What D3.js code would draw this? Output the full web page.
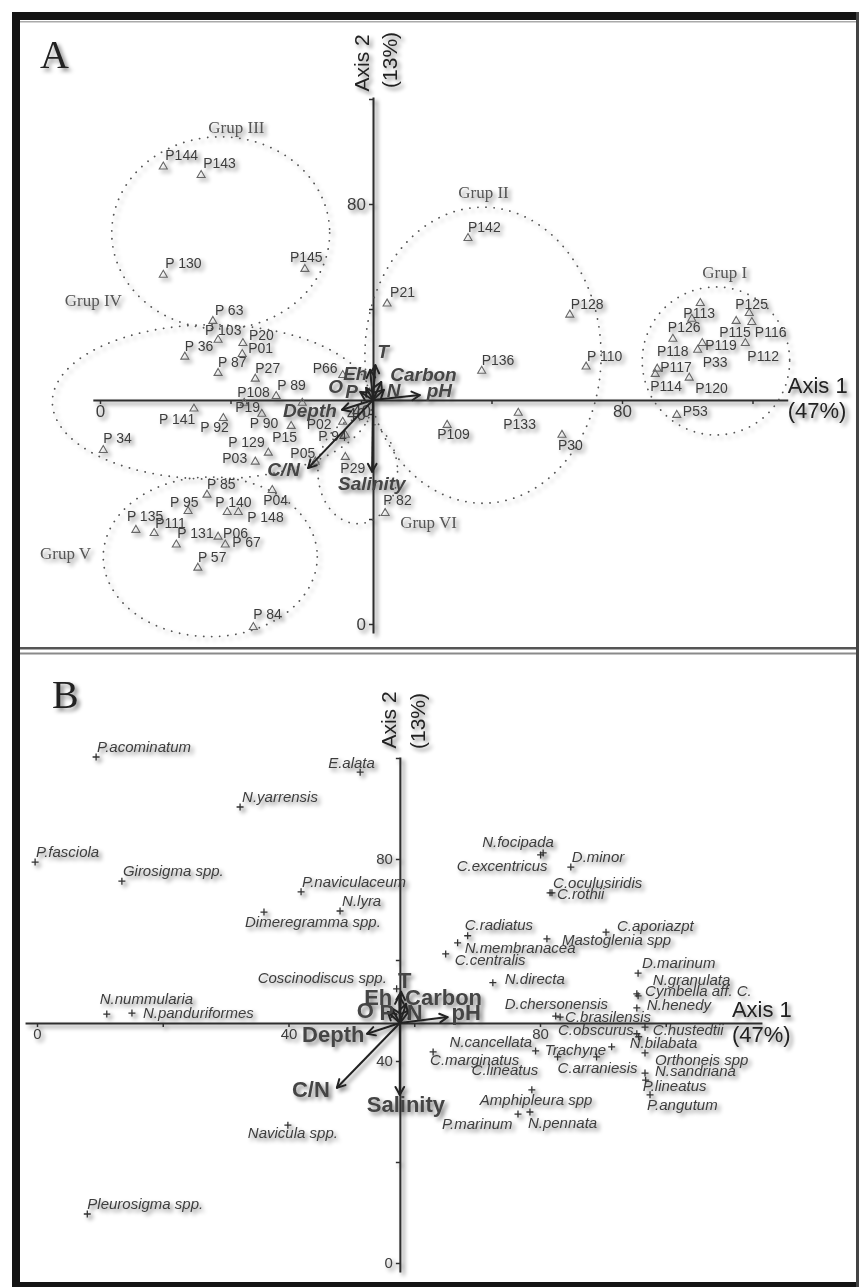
<!DOCTYPE html>
<html>
<head>
<meta charset="utf-8">
<script src="https://cdn.jsdelivr.net/npm/d3@7"></script>
<style>
  body { margin: 0; background: #fff; }
  svg { display: block; font-family: "Liberation Sans", Arial, sans-serif; }
</style>
</head>
<body>
<svg id="chart"></svg>
<script>
// ---------- data: panel A (sampling sites) ----------
const siteNames = ['P144','P143','P 130','P145','P21','P142','P128','P113','P125','P126','P115','P116',
  'P118','P119','P33','P112','P117','P114','P120','P53','P 110','P136','P133','P109','P30',
  'P 63','P 103','P 36','P20','P01','P 87','P27','P108','P 89','P66','P19','P 141','P 92','P 90',
  'P15','P02','P 94','P 129','P03','P05','P29','P 34','P 85','P 95','P 140','P 148','P04',
  'P 135','P111','P 131','P06','P 67','P 57','P 84','P 82'];
const siteAxis1 = [9.7,15.5,9.7,31.4,44.0,56.4,72.0,92.0,99.5,90.7,97.5,99.9,
  87.8,92.3,91.6,98.9,85.4,85.1,90.3,88.4,74.5,58.5,64.1,53.2,70.8,
  17.3,18.1,13.0,21.9,21.8,18.1,23.8,27.0,31.0,37.2,22.1,14.4,18.9,24.8,
  29.3,37.2,37.6,25.8,23.8,33.0,37.6,0.5,16.4,13.5,19.5,21.2,26.4,
  5.5,8.3,11.7,18.1,19.2,15.0,23.5,43.7];
const siteAxis2 = [87.1,85.5,66.5,67.6,61.0,73.5,58.9,61.1,59.2,58.1,57.7,57.5,
  54.3,53.5,52.2,53.5,48.6,47.6,46.9,39.8,49.0,48.2,40.2,37.9,36.0,
  57.7,54.1,50.9,53.5,51.4,47.8,46.7,43.4,42.1,47.4,42.1,41.0,39.2,40.0,
  37.7,38.5,36.0,32.6,30.9,30.9,31.8,33.1,24.6,21.5,21.3,21.3,25.5,
  17.9,17.3,15.1,16.6,15.1,10.7,-0.6,21.1];

const groupNames = ['Grup I','Grup II','Grup III','Grup IV','Grup V','Grup VI'];
const groupCenter1 = [94.4, 58.7, 18.5, 17.2, 16.9, 39.5];
const groupCenter2 = [50.1, 51.2, 74.5, 42.3, 12.8, 29.0];
const groupRadius1 = [11.3, 18.1, 16.7, 24.5, 16.4, 6.1];
const groupRadius2 = [14.1, 28.2, 18.3, 14.7, 15.2, 9.9];
const groupLabel1 = [92.3, 54.9, 16.6, -5.4, -9.2, 46.0];
const groupLabel2 = [65.9, 81.1, 93.5, 60.6, 12.4, 18.3];

// ---------- data: panel B (diatom species) ----------
const speciesNames = ['P.acominatum','E.alata','N.yarrensis','P.fasciola','Girosigma spp.','P.naviculaceum',
  'N.lyra','Dimeregramma spp.','N.focipada','C.excentricus','D.minor','C.oculusiridis','C.rothii',
  'C.radiatus','N.membranacea','C.centralis','Mastoglenia spp','C.aporiazpt','D.marinum','N.granulata',
  'Cymbella aff. C.','N.henedy','D.chersonensis','C.brasilensis','N.directa','Coscinodiscus spp.',
  'N.nummularia','N.panduriformes','C.obscurus','C.hustedtii','N.bilabata','N.cancellata','Trachyne',
  'C.marginatus','C.lineatus','C.arraniesis','Orthoneis spp','N.sandriana','P.lineatus','P.angutum',
  'Amphipleura spp','P.marinum','N.pennata','Navicula spp.','Pleurosigma spp.'];
const speciesAxis1 = [9.4,51.4,32.3,-0.3,13.5,42.0,48.2,36.1,80.5,80.1,84.9,81.6,81.9,
  68.5,66.9,65.0,81.1,90.5,95.6,95.4,95.6,95.4,82.5,83.2,72.5,57.2,
  11.1,15.1,96.7,95.4,95.7,79.3,91.4,63.0,82.8,89.0,96.7,96.7,96.8,97.5,
  78.7,76.5,78.4,39.9,8.0];
const speciesAxis2 = [100.2,97.2,90.3,79.4,75.6,73.5,69.7,69.5,81.2,80.8,78.4,73.3,73.3,
  64.8,63.4,61.2,64.2,65.5,57.4,53.3,52.9,50.5,48.9,48.7,55.5,54.3,
  49.3,49.5,46.7,45.4,44.8,42.0,42.8,41.8,40.8,40.8,41.6,37.6,36.2,33.3,
  34.3,29.5,29.9,27.3,9.7];

// ---------- environmental vectors ----------
const envNames = ['T','Eh','Carbon','O','P','N','pH','Depth','C/N','Salinity'];
const envAxis1A = [42.2,41.4,43.1,39.9,40.8,43.5,49.0,37.1,31.9,41.7];
const envAxis2A = [49.3,48.4,46.1,44.2,45.0,44.6,43.6,40.8,29.7,29.0];
const envAxis1B = [57.9,57.6,58.7,55.8,56.4,59.3,65.3,52.5,47.7,57.7];
const envAxis2B = [53.7,52.9,51.3,49.7,50.5,50.1,48.7,45.4,34.7,33.3];

// ---------- axes ----------
const axisTicks = [0, 20, 40, 60, 80, 100];
const axisTickLabels = [0, 40, 80];
const axis1Title = ['Axis 1', '(47%)'];
const axis2Title = ['Axis 2', '(13%)'];

// ---------- layout (label offsets in px: left edge, centre) ----------
const siteLabelOffset = {
  'P144':[2,-12],'P143':[2,-12],'P 130':[2,-12],'P145':[-15,-12],'P21':[3,-12],'P142':[0,-11],
  'P128':[1,-11],'P113':[-17,10],'P125':[-14,-9],'P126':[-24,8],'P115':[-17,11],'P116':[3,10],
  'P118':[-16,12],'P119':[3,2],'P33':[5,12],'P112':[2,13],'P117':[3,-2],'P114':[-5,12],
  'P120':[6,10],'P53':[6,-4],'P 110':[1,-11],'P136':[0,-11],'P133':[-15,11],'P109':[-10,9],
  'P30':[-4,10],'P 63':[2,-11],'P 103':[-13,-10],'P 36':[0,-11],'P20':[6,-8],'P01':[6,-6],
  'P 87':[0,-11],'P27':[0,-11],'P108':[-39,-4],'P 89':[-25,-18],'P66':[-30,-7],'P19':[-9,4],
  'P 141':[-35,10],'P 92':[-23,9],'P 90':[-12,9],'P15':[-19,11],'P02':[-36,2],'P 94':[-27,1],
  'P 129':[-40,-11],'P03':[-33,-4],'P05':[-25,-9],'P29':[-5,11],'P 34':[0,-12],'P 85':[0,-11],
  'P 95':[-18,-9],'P 140':[-12,-10],'P 148':[9,5],'P04':[-9,10],'P 135':[-9,-14],'P111':[1,-10],
  'P 131':[1,-12],'P06':[5,-4],'P 67':[7,-3],'P 57':[0,-11],'P 84':[0,-13],'P 82':[-2,-13]
};
const speciesLabelOffset = [[1,-10],[-32,-9],[2,-10],[1,-10],[1,-10],[1,-10],[2,-10],[-19,10],
  [-61,-11],[-84,11],[1,-10],[3,-10],[5,1],[-3,-11],[7,5],[9,6],[15,1],[11,-6],[4,-10],[16,-14],
  [7,-5],[10,-3],[-51,-12],[5,0],[12,-4],[-139,-11],[-7,-15],[11,0],[-87,3],[16,-4],[-9,6],
  [-86,-9],[-67,3],[-3,8],[-86,13],[-39,11],[10,7],[10,-2],[-3,6],[-3,10],[-52,10],[-76,10],
  [-2,11],[-40,8],[0,-10]];
const envLabelOffsetA = [[2,-7],[-27,10],[9,-1],[-32,1],[-21,10],[3,7],[7,2],[-59,7],[-41,8],[-34,18]];
const envLabelOffsetB = [[-3,-4],[-35,9],[-1,1],[-31,6],[-12,12],[-3,10],[4,3],[-65,8],[-45,9],[-33,17]];

const W = 859, H = 1287;
const ink = '#2e2e2e', txt = '#3d3d3d';
const svg = d3.select('#chart').attr('width', W).attr('height', H);

// blurred drop shadow used everywhere in the original figure
const filter = svg.append('defs').append('filter').attr('id', 'shadow')
  .attr('x', '-10%').attr('y', '-10%').attr('width', '120%').attr('height', '120%');
filter.append('feGaussianBlur').attr('in', 'SourceAlpha').attr('stdDeviation', 2.2).attr('result', 'blur');
filter.append('feOffset').attr('in', 'blur').attr('dx', 3).attr('dy', 3).attr('result', 'off');
filter.append('feComponentTransfer').attr('in', 'off').attr('result', 'soft')
  .append('feFuncA').attr('type', 'linear').attr('slope', 0.5);
const merge = filter.append('feMerge');
merge.append('feMergeNode').attr('in', 'soft');
merge.append('feMergeNode').attr('in', 'SourceGraphic');

// frame
const frame = svg.append('g');
frame.append('rect').attr('x', 12).attr('y', 12).attr('width', W - 12).attr('height', 8).attr('fill', '#141414');
frame.append('rect').attr('x', 12).attr('y', 12).attr('width', 8).attr('height', H - 12).attr('fill', '#141414');
frame.append('rect').attr('x', 12).attr('y', H - 5).attr('width', W - 12).attr('height', 5).attr('fill', '#141414');
frame.append('rect').attr('x', W - 3).attr('y', 12).attr('width', 3).attr('height', H - 12).attr('fill', '#444');
frame.append('rect').attr('x', 20).attr('y', 21).attr('width', W - 23).attr('height', 1.5).attr('fill', '#aaa');
frame.append('rect').attr('x', 20).attr('y', 647).attr('width', W - 23).attr('height', 2.5).attr('fill', '#555');
frame.append('rect').attr('x', 20).attr('y', 652.5).attr('width', W - 23).attr('height', 2).attr('fill', '#8a8a8a');

function drawArrow(g, x1, y1, x2, y2) {
  g.append('line').attr('x1', x1).attr('y1', y1).attr('x2', x2).attr('y2', y2)
    .attr('stroke', '#222').attr('stroke-width', 2);
  const ang = Math.atan2(y2 - y1, x2 - x1);
  const len = Math.min(9, Math.hypot(x2 - x1, y2 - y1) * 0.7);
  [-0.5, 0.5].forEach(s => {
    g.append('line').attr('x1', x2).attr('y1', y2)
      .attr('x2', x2 - len * Math.cos(ang + s)).attr('y2', y2 - len * Math.sin(ang + s))
      .attr('stroke', '#222').attr('stroke-width', 2).attr('stroke-linecap', 'round');
  });
}

function panel(o) {
  const g = svg.append('g').attr('filter', 'url(#shadow)');
  const x = o.x, y = o.y;
  const ox = x(o.origin[0]), oy = y(o.origin[1]);
  const fmt = d => axisTickLabels.includes(d) ? d : '';

  const xa = x.copy().domain(o.xExtent).range(o.xExtent.map(x));
  const ya = y.copy().domain(o.yExtent).range(o.yExtent.map(y));

  const styleAxis = s => {
    s.select('.domain').attr('stroke', ink).attr('stroke-width', 2);
    s.selectAll('.tick line').attr('stroke', ink).attr('stroke-width', 1.5);
    s.selectAll('.tick text').attr('fill', txt).attr('font-size', o.tickFont)
      .attr('font-family', '"Liberation Sans", Arial, sans-serif');
  };
  g.append('g').attr('transform', `translate(0,${oy})`)
    .call(d3.axisBottom(xa).tickValues(axisTicks).tickSize(4).tickSizeOuter(0).tickPadding(1).tickFormat(fmt))
    .call(styleAxis);
  g.append('g').attr('transform', `translate(${ox},0)`)
    .call(d3.axisLeft(ya).tickValues(axisTicks).tickSize(4).tickSizeOuter(0).tickPadding(3).tickFormat(fmt))
    .call(styleAxis);

  // axis titles
  const xEnd = xa.range()[1], yTop = ya.range()[1];
  axis1Title.forEach((t, i) => {
    g.append('text').attr('x', xEnd + o.t1[0]).attr('y', oy + o.t1[1] + i * 25)
      .attr('font-size', 22).attr('fill', '#222').text(t);
  });
  axis2Title.forEach((t, i) => {
    g.append('text').attr('transform', `translate(${ox + o.t2[i][0]},${yTop + o.t2[i][1]}) rotate(-90)`)
      .attr('text-anchor', 'middle').attr('dominant-baseline', 'central')
      .attr('font-size', 21).attr('fill', '#222').text(t);
  });

  // panel letter
  g.append('text').attr('x', o.letterPos[0]).attr('y', o.letterPos[1])
    .attr('font-family', '"Liberation Serif", "Times New Roman", serif')
    .attr('font-size', 40).attr('fill', '#222').text(o.letter);
  return { g, x, y, ox, oy };
}

function drawEnv(p, a1, a2, offs, italic, size) {
  const ga = p.g.append('g');
  envNames.forEach((n, i) => drawArrow(ga, p.ox, p.oy, p.x(a1[i]), p.y(a2[i])));
  p.g.selectAll(null).data(envNames).join('text')
    .attr('x', (d, i) => p.x(a1[i]) + offs[i][0])
    .attr('y', (d, i) => p.y(a2[i]) + offs[i][1])
    .attr('font-size', size).attr('font-weight', 'bold')
    .attr('font-style', italic ? 'italic' : 'normal')
    .attr('fill', '#444').text(d => d);
}

// ---------------- Panel A ----------------
const pA = panel({
  x: d3.scaleLinear().domain([0, 80]).range([100, 622]),
  y: d3.scaleLinear().domain([0, 80]).range([624, 204]),
  origin: [41.84, 42.67], xExtent: [-1.1, 105.4], yExtent: [-1.7, 100.4],
  tickFont: 17, t1: [0, -7], t2: [[-12, -34], [16, -37]],
  letter: 'A', letterPos: [40, 68]
});

const sites = siteNames.map((n, i) => ({ name: n, a1: siteAxis1[i], a2: siteAxis2[i] }));
pA.g.selectAll('ellipse').data(groupNames).join('ellipse')
  .attr('cx', (d, i) => pA.x(groupCenter1[i]))
  .attr('cy', (d, i) => pA.y(groupCenter2[i]))
  .attr('rx', (d, i) => pA.x(groupCenter1[i] + groupRadius1[i]) - pA.x(groupCenter1[i]))
  .attr('ry', (d, i) => pA.y(groupCenter2[i]) - pA.y(groupCenter2[i] + groupRadius2[i]))
  .attr('fill', 'none').attr('stroke', '#555').attr('stroke-width', 1.8)
  .attr('stroke-linecap', 'round').attr('stroke-dasharray', '0.1 8');
pA.g.selectAll('text.grp').data(groupNames).join('text').attr('class', 'grp')
  .attr('x', (d, i) => pA.x(groupLabel1[i])).attr('y', (d, i) => pA.y(groupLabel2[i]))
  .attr('font-family', '"Liberation Serif", "Times New Roman", serif')
  .attr('font-size', 17).attr('fill', '#555').text(d => d);

pA.g.selectAll('path.site').data(sites).join('path').attr('class', 'site')
  .attr('d', d3.symbol(d3.symbolTriangle, 28))
  .attr('transform', d => `translate(${pA.x(d.a1)},${pA.y(d.a2)})`)
  .attr('fill', 'none').attr('stroke', '#666').attr('stroke-width', 1.1);
pA.g.selectAll('text.site').data(sites).join('text').attr('class', 'site')
  .attr('x', d => pA.x(d.a1) + siteLabelOffset[d.name][0])
  .attr('y', d => pA.y(d.a2) + siteLabelOffset[d.name][1] + 5)
  .attr('font-size', 14).attr('fill', txt).text(d => d.name);

drawEnv(pA, envAxis1A, envAxis2A, envLabelOffsetA, true, 19);

// ---------------- Panel B ----------------
const pB = panel({
  x: d3.scaleLinear().domain([0, 80]).range([37, 540]),
  y: d3.scaleLinear().domain([0, 80]).range([1263, 859]),
  origin: [57.71, 47.52], xExtent: [-1.9, 115.3], yExtent: [-1.8, 100.2],
  tickFont: 15, t1: [-30, -6], t2: [[-11, -37], [18, -36]],
  letter: 'B', letterPos: [52, 708]
});

const species = speciesNames.map((n, i) => ({ name: n, a1: speciesAxis1[i], a2: speciesAxis2[i], off: speciesLabelOffset[i] }));
pB.g.selectAll('path.sp').data(species).join('path').attr('class', 'sp')
  .attr('d', 'M-3.5,0H3.5M0,-3.5V3.5')
  .attr('transform', d => `translate(${pB.x(d.a1)},${pB.y(d.a2)})`)
  .attr('stroke', '#333').attr('stroke-width', 1.3);
pB.g.selectAll('text.sp').data(species).join('text').attr('class', 'sp')
  .attr('x', d => pB.x(d.a1) + d.off[0])
  .attr('y', d => pB.y(d.a2) + d.off[1] + 5)
  .attr('font-size', 15).attr('font-style', 'italic').attr('fill', txt).text(d => d.name);

drawEnv(pB, envAxis1B, envAxis2B, envLabelOffsetB, false, 22);
</script>
</body>
</html>
